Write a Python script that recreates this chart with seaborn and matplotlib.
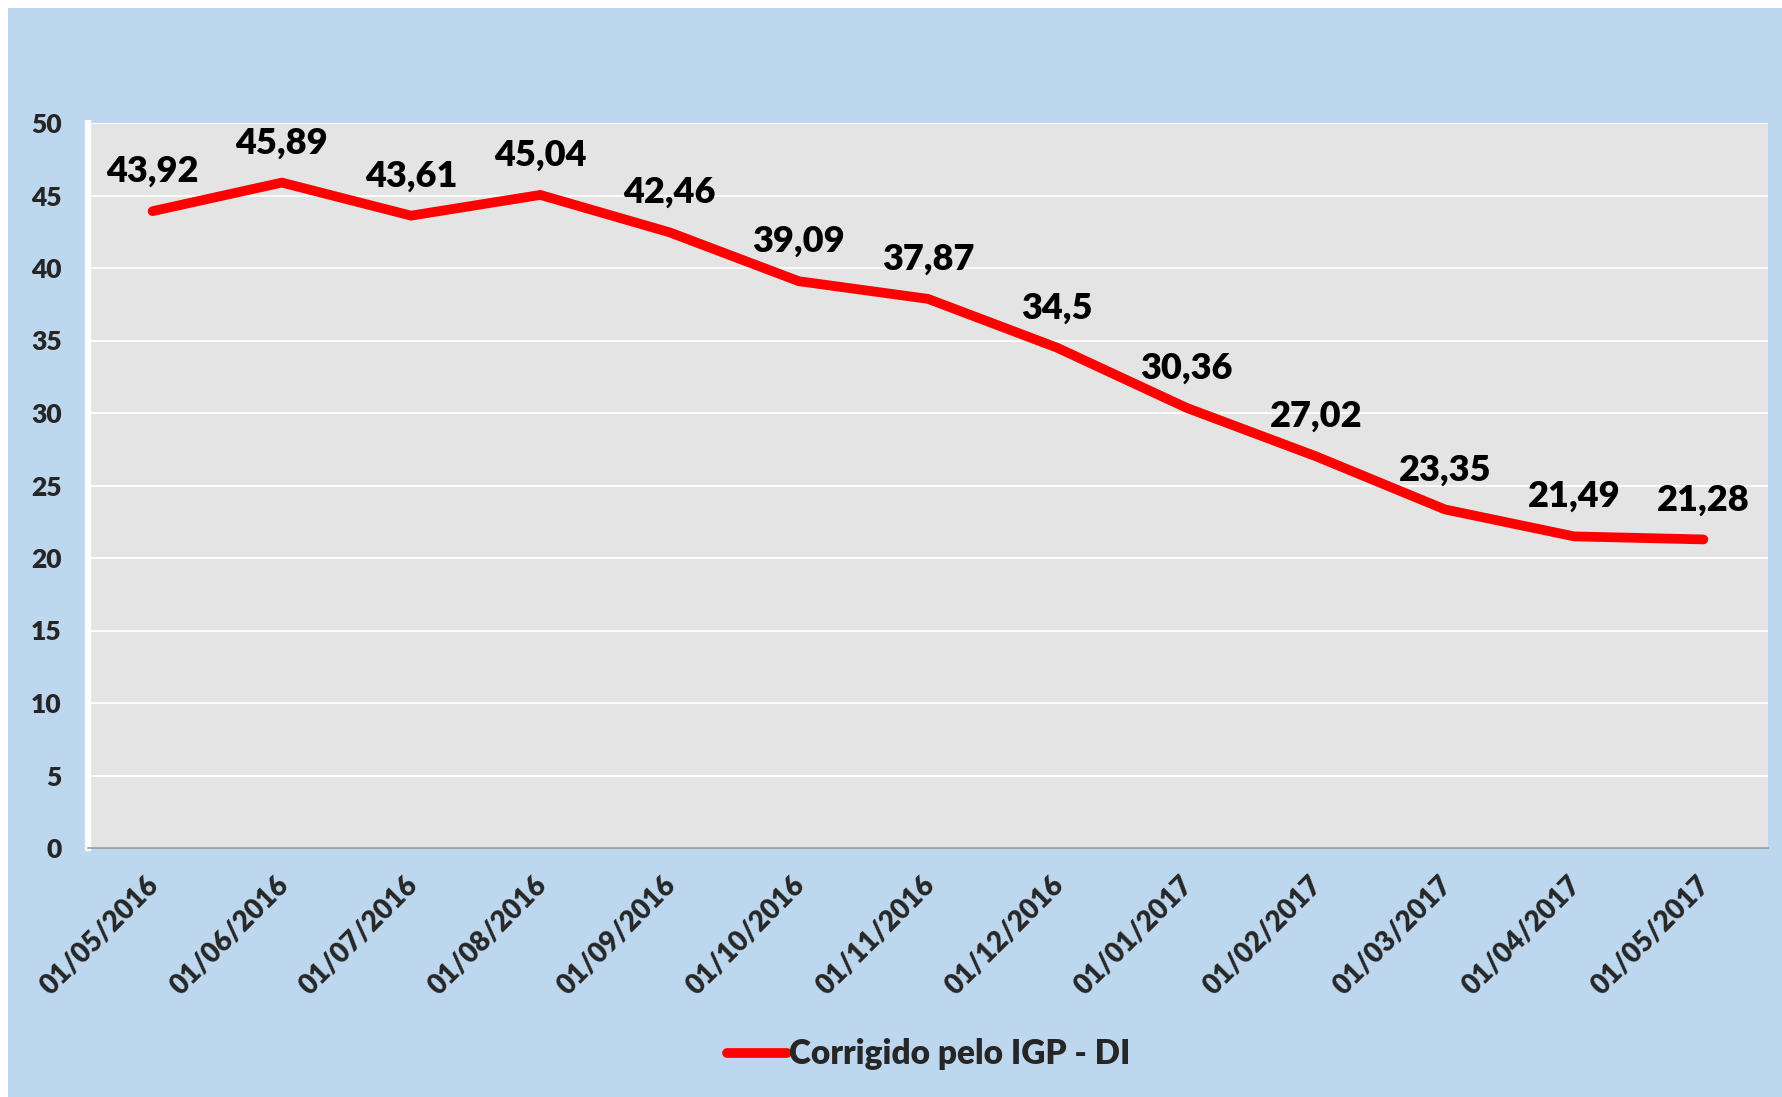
import matplotlib
matplotlib.use("Agg")
import matplotlib.pyplot as plt
from matplotlib.patches import Rectangle
from matplotlib.ticker import FixedLocator
from matplotlib.transforms import ScaledTranslation
import pandas as pd
import seaborn as sns

# data
dates = ["01/05/2016", "01/06/2016", "01/07/2016", "01/08/2016", "01/09/2016",
         "01/10/2016", "01/11/2016", "01/12/2016", "01/01/2017", "01/02/2017",
         "01/03/2017", "01/04/2017", "01/05/2017"]
values = [43.92, 45.89, 43.61, 45.04, 42.46, 39.09, 37.87, 34.5, 30.36,
          27.02, 23.35, 21.49, 21.28]
value_labels = ["43,92", "45,89", "43,61", "45,04", "42,46", "39,09", "37,87",
                "34,5", "30,36", "27,02", "23,35", "21,49", "21,28"]
series_name = "Corrigido pelo IGP - DI"
y_ticks = [0, 5, 10, 15, 20, 25, 30, 35, 40, 45, 50]

BLUE = "#BDD7EE"
PLOT_BG = "#E4E4E4"
RED = "#FF0000"
W = "heavy"

sns.set_style("white")
plt.rcParams["font.family"] = ["Lato", "DejaVu Sans"]
plt.rcParams["font.weight"] = W

df = pd.DataFrame({"data": dates, "valor": values})

fig = plt.figure(figsize=(17.83, 10.97), dpi=100, facecolor="white")
# blue chart area with thin white border at top/left
fig.patches.append(Rectangle((8 / 1783, 0), 1, 1 - 8 / 1097, transform=fig.transFigure,
                             facecolor=BLUE, edgecolor="none", zorder=-10))

ax = fig.add_axes([88 / 1783, 1 - 848 / 1097, (1768 - 88) / 1783, (848 - 123) / 1097])
ax.set_facecolor(PLOT_BG)

sns.lineplot(data=df, x="data", y="valor", ax=ax, color=RED, linewidth=7,
             label=series_name, solid_capstyle="round", solid_joinstyle="miter", sort=False)

for i, (v, t) in enumerate(zip(values, value_labels)):
    ax.annotate(t, (i, v), xytext=(0, 21), textcoords="offset points",
                ha="center", va="baseline", fontsize=26, fontweight=W, color="black")

ax.set_xlim(-0.5, len(dates) - 0.5)
ax.set_ylim(0, 50)
ax.set_yticks(y_ticks)
ax.set_xticks(range(len(dates)))
ax.xaxis.set_minor_locator(FixedLocator([i - 0.5 for i in range(len(dates) + 1)]))
ax.tick_params(axis="x", which="major", length=0, pad=17)
ax.tick_params(axis="x", which="minor", length=7, width=1.2, color="#9A9A9A", direction="out")
ax.tick_params(axis="y", which="major", length=5, width=5, color="white", direction="out",
               pad=14, labelsize=19)
ax.set_xticklabels(dates, rotation=45, ha="right", va="top", rotation_mode="anchor",
                   fontsize=20, fontweight=W)
# nudge the rotated date labels a little to the left, like the original
shift = ScaledTranslation(-7 / 100, 0, fig.dpi_scale_trans)
for lab in ax.get_xticklabels():
    lab.set_transform(lab.get_transform() + shift)
for lab in ax.get_yticklabels():
    lab.set_fontweight(W)

ax.grid(axis="y", color="white", linewidth=1.3)
ax.grid(axis="x", visible=False)
ax.set_axisbelow(True)
ax.set_xlabel("")
ax.set_ylabel("")

for s in ["top", "right"]:
    ax.spines[s].set_visible(False)
ax.spines["left"].set_color("white")
ax.spines["left"].set_linewidth(4.5)
ax.spines["bottom"].set_color("#9A9A9A")
ax.spines["bottom"].set_linewidth(1.2)

ax.get_legend().remove()
handles, labels = ax.get_legend_handles_labels()
leg = fig.legend(handles, labels, loc="center", bbox_to_anchor=(0.521, 0.039), frameon=False,
                 prop={"size": 24, "weight": W}, handlelength=1.8, handletextpad=0.05)

fig.savefig("out.png", dpi=100, facecolor=fig.get_facecolor())
